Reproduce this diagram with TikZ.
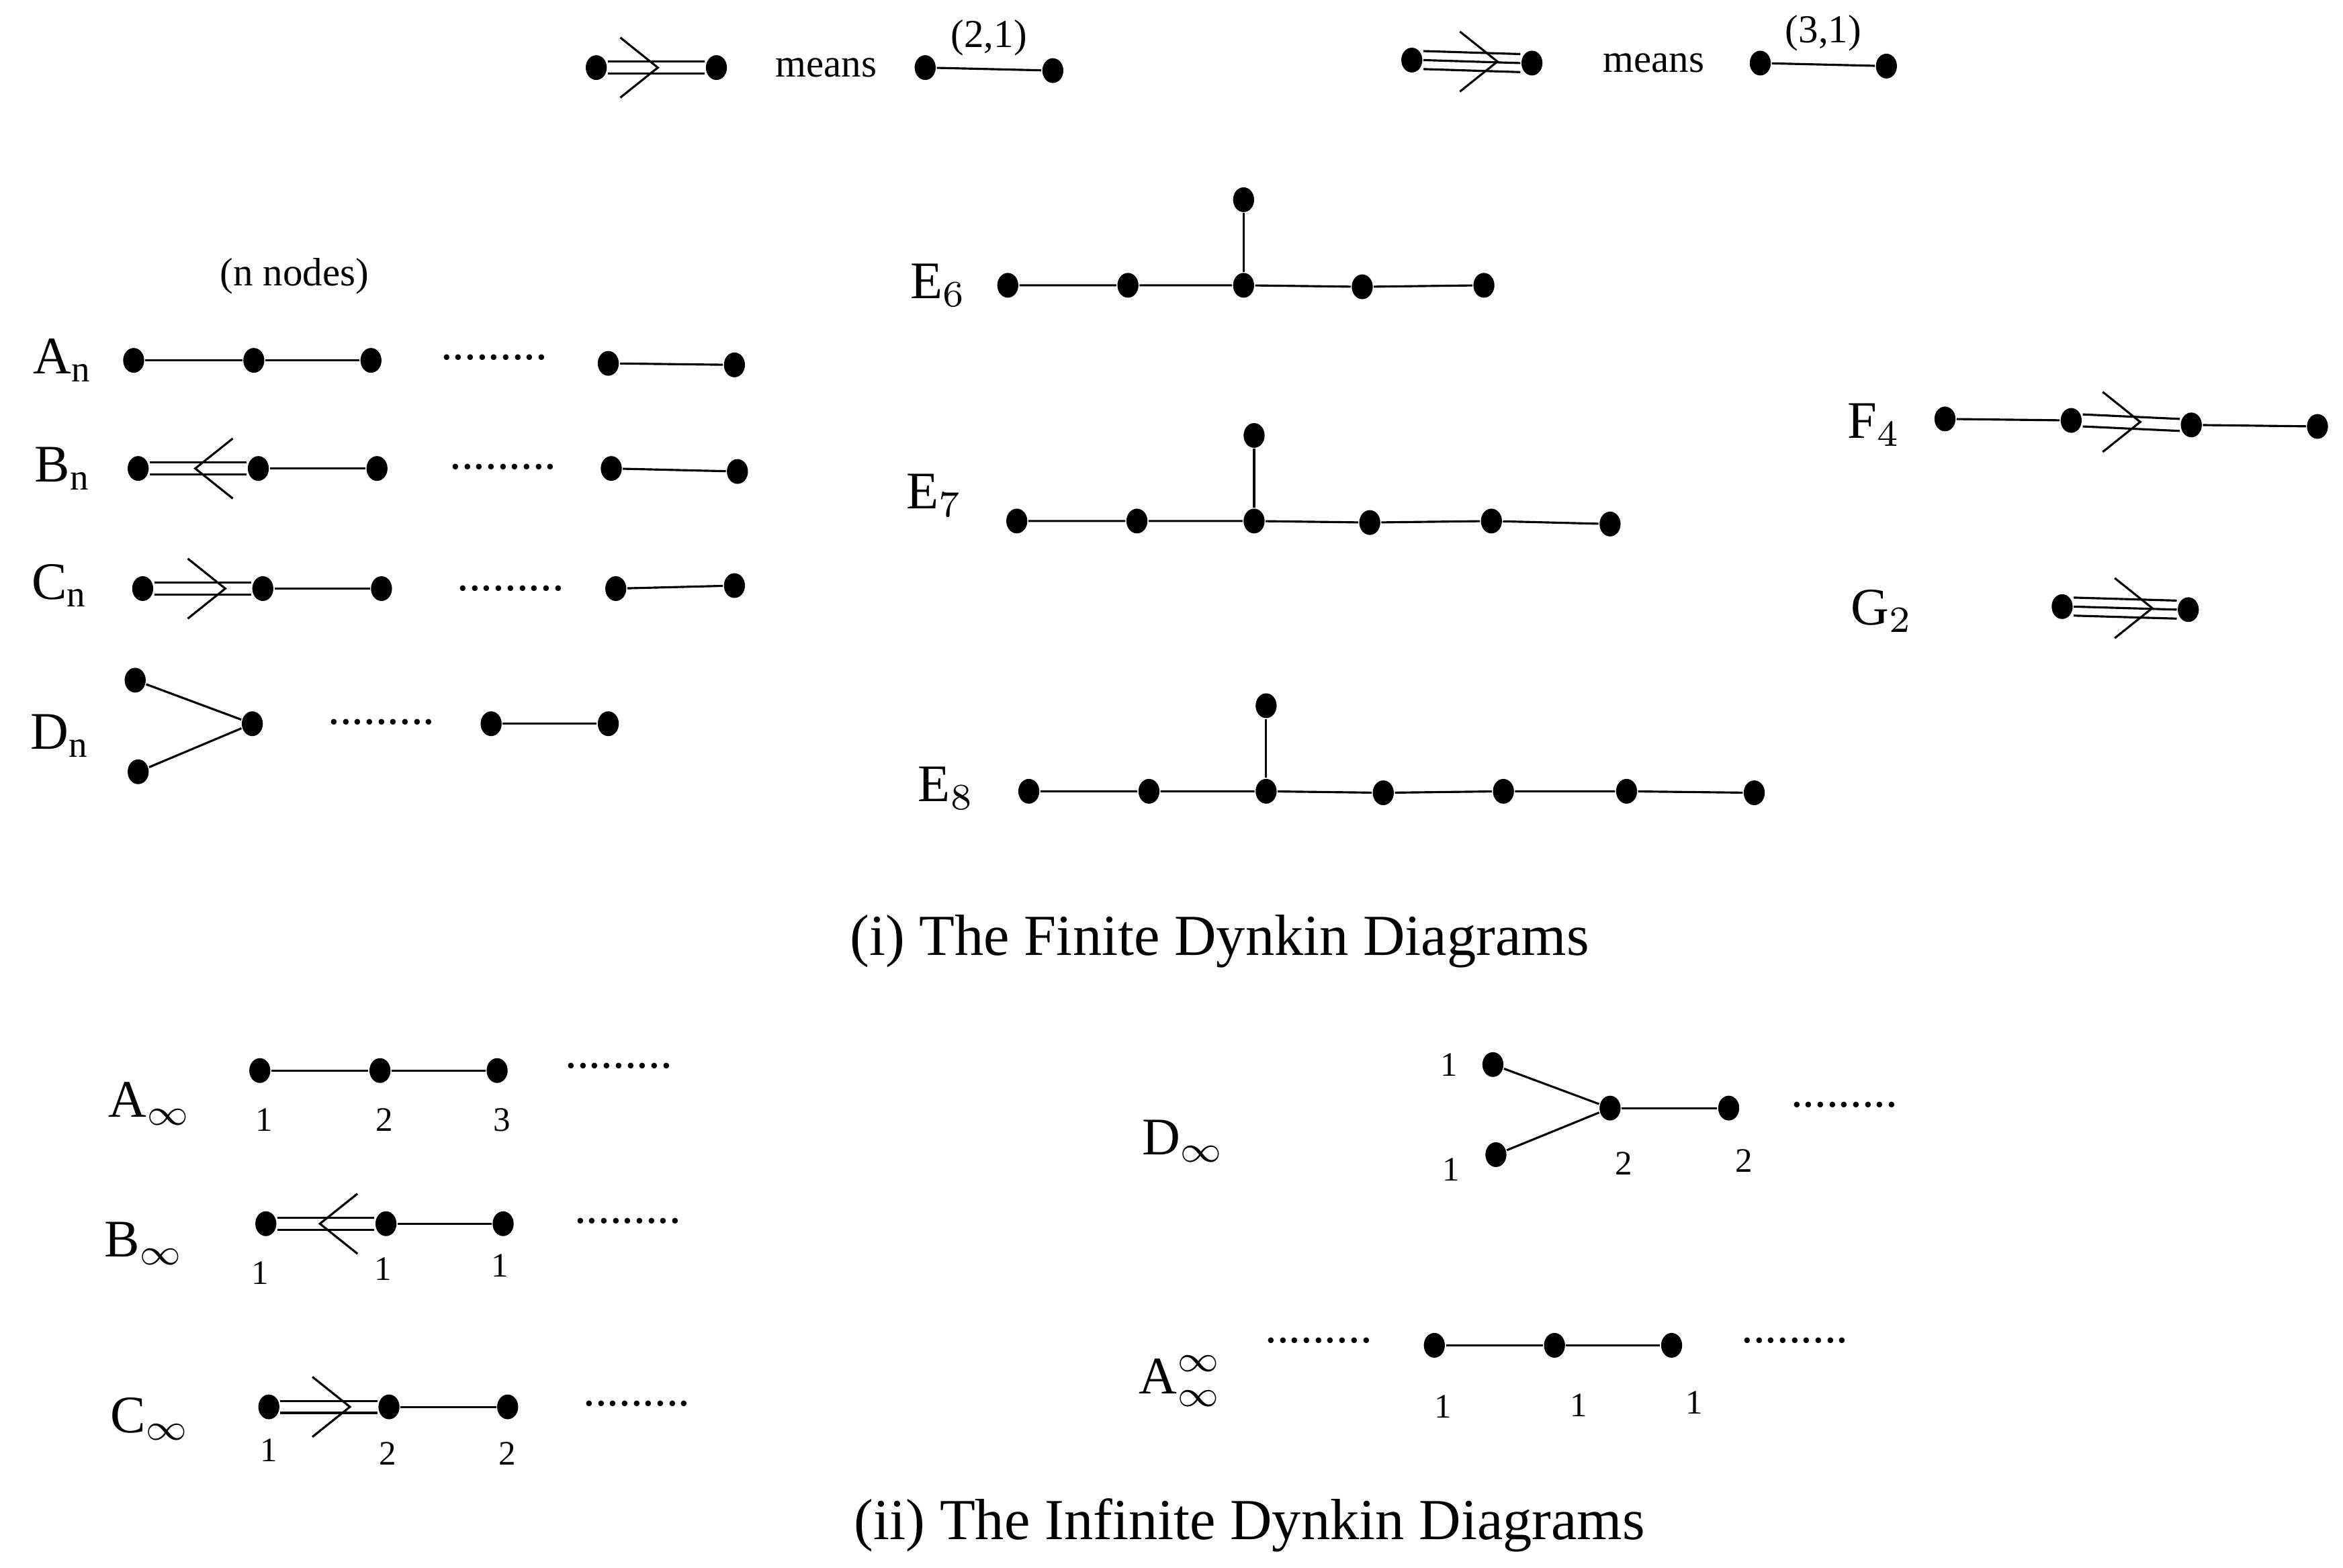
\documentclass[tikz,border=0pt]{standalone}
\usepackage{fontspec}
\usepackage{amsmath}
\setmainfont{Liberation Serif}
\usetikzlibrary{shapes.geometric}

\tikzset{
  dot/.style={ellipse, fill=black, inner sep=0pt, minimum width=0.14cm, minimum height=0.165cm},
  diag/.style={font=\fontsize{10}{12}\selectfont},
  num/.style={font=\fontsize{6.5}{8}\selectfont},
  word/.style={font=\fontsize{7.5}{9}\selectfont},
  title/.style={font=\fontsize{11}{13}\selectfont},
  dots/.style={font=\fontsize{9}{10}\selectfont}
}
\newcommand{\chev}[2]{\draw ([shift={(#2*-25,-20)}]#1) -- (#1) -- ([shift={(#2*-25,20)}]#1);}
\newcommand{\dbl}[2]{\draw ([yshift=0.04cm]#1.east) -- ([yshift=0.04cm]#2.west);
  \draw ([yshift=-0.04cm]#1.east) -- ([yshift=-0.04cm]#2.west);}
\newcommand{\trp}[2]{\draw ([yshift=0.06cm]#1.east) -- ([yshift=0.06cm]#2.west);
  \draw (#1.east) -- (#2.west);
  \draw ([yshift=-0.06cm]#1.east) -- ([yshift=-0.06cm]#2.west);}
\newcommand{\dotrow}[2]{\node[dots] (#2) at (#1) {.........};}

\begin{document}
\begin{tikzpicture}[x=0.01cm, y=-0.01cm]
  \useasboundingbox (0,0) rectangle (1560,1044);

  % legend
  \node[dot] (l1) at (397,45) {};
  \node[dot] (l2) at (477,45) {};
  \dbl{l1}{l2}
  \coordinate (lv) at (438,45); \chev{lv}{1}
  \node[word] (m1) at (550,45) {means};
  \node[dot] (l3) at (616,45) {};
  \node[dot] (l4) at (701,47) {};
  \draw (l3) -- (l4) node[midway, above=-1pt, word] {(2,1)};

  \node[dot] (k1) at (940,40) {};
  \node[dot] (k2) at (1020,42) {};
  \trp{k1}{k2}
  \coordinate (kv) at (997,41); \chev{kv}{1}
  \node[word] (m2) at (1101,42) {means};
  \node[dot] (k3) at (1172,42) {};
  \node[dot] (k4) at (1256,44) {};
  \draw (k3) -- (k4) node[midway, above=-1pt, word] {(3,1)};

  % A_n
  \node[diag] (An) at (42,240) {$\text{A}_{\text{n}}$};
  \node[word] (nn) at (196,184) {(n nodes)};
  \foreach \i/\x/\y in {1/89/240, 2/169/240, 3/247/240, 4/405/242, 5/489/243}
    \node[dot] (a\i) at (\x,\y) {};
  \draw (a1) -- (a2) -- (a3);
  \draw (a4) -- (a5);
  \dotrow{329,238}{ad}

  % B_n
  \node[diag] (Bn) at (42,312) {$\text{B}_{\text{n}}$};
  \foreach \i/\x/\y in {1/92/312, 2/172/312, 3/251/312, 4/407/312, 5/491/314}
    \node[dot] (b\i) at (\x,\y) {};
  \dbl{b1}{b2}
  \coordinate (bv) at (130,312); \chev{bv}{-1}
  \draw (b2) -- (b3);
  \draw (b4) -- (b5);
  \dotrow{335,311}{bd}

  % C_n
  \node[diag] (Cn) at (40,390) {$\text{C}_{\text{n}}$};
  \foreach \i/\x/\y in {1/95/392, 2/175/392, 3/254/392, 4/410/392, 5/489/390}
    \node[dot] (c\i) at (\x,\y) {};
  \dbl{c1}{c2}
  \coordinate (cv) at (150,392); \chev{cv}{1}
  \draw (c2) -- (c3);
  \draw (c4) -- (c5);
  \dotrow{340,392}{cd}

  % D_n
  \node[diag] (Dn) at (40,490) {$\text{D}_{\text{n}}$};
  \foreach \i/\x/\y in {1/90/453, 2/92/514, 3/168/482, 4/327/482, 5/405/482}
    \node[dot] (d\i) at (\x,\y) {};
  \draw (d1) -- (d3) -- (d2);
  \draw (d4) -- (d5);
  \dotrow{254,481}{dd}

  % E_6
  \node[diag] (E6) at (625,190) {$\text{E}_6$};
  \foreach \i/\x/\y in {1/671/190, 2/751/190, 3/828/190, 4/907/191, 5/988/190, 6/828/133}
    \node[dot] (e\i) at (\x,\y) {};
  \draw (e1) -- (e2) -- (e3) -- (e4) -- (e5);
  \draw (e3) -- (e6);

  % E_7
  \node[diag] (E7) at (622,330) {$\text{E}_7$};
  \foreach \i/\x/\y in {1/677/347, 2/757/347, 3/835/347, 4/912/348, 5/993/347, 6/1072/349, 7/835/290}
    \node[dot] (f\i) at (\x,\y) {};
  \draw (f1) -- (f2) -- (f3) -- (f4) -- (f5) -- (f6);
  \draw (f3) -- (f7);

  % E_8
  \node[diag] (E8) at (630,525) {$\text{E}_8$};
  \foreach \i/\x/\y in {1/685/527, 2/765/527, 3/843/527, 4/921/528, 5/1001/527, 6/1083/527, 7/1168/528, 8/843/470}
    \node[dot] (g\i) at (\x,\y) {};
  \draw (g1) -- (g2) -- (g3) -- (g4) -- (g5) -- (g6) -- (g7);
  \draw (g3) -- (g8);

  % F_4
  \node[diag] (F4) at (1248,283) {$\text{F}_4$};
  \foreach \i/\x/\y in {1/1295/279, 2/1379/280, 3/1459/283, 4/1543/284}
    \node[dot] (h\i) at (\x,\y) {};
  \draw (h1) -- (h2);
  \dbl{h2}{h3}
  \coordinate (hv) at (1425,281); \chev{hv}{1}
  \draw (h3) -- (h4);

  % G_2
  \node[diag] (G2) at (1253,407) {$\text{G}_2$};
  \node[dot] (p1) at (1373,404) {};
  \node[dot] (p2) at (1457,406) {};
  \trp{p1}{p2}
  \coordinate (pv) at (1433,405); \chev{pv}{1}

  \node[title] (cap1) at (812,627) {(i) The Finite Dynkin Diagrams};

  % A_infty
  \node[diag] (Ai) at (100,735) {$\text{A}_\infty$};
  \foreach \i/\x/\y/\n in {1/173/713/1, 2/253/713/2, 3/331/713/3}
    \node[dot] (q\i) at (\x,\y) {} node[num] at (\x+3,\y+33) {\n};
  \draw (q1) -- (q2) -- (q3);
  \dotrow{412,710}{qd}

  % B_infty
  \node[diag] (Bi) at (96,828) {$\text{B}_\infty$};
  \foreach \i/\x/\y in {1/177/815, 2/257/815, 3/335/815}
    \node[dot] (r\i) at (\x,\y) {};
  \node[num] at (173,848) {1};
  \node[num] at (255,845) {1};
  \node[num] at (333,843) {1};
  \dbl{r1}{r2}
  \coordinate (rv) at (213,815); \chev{rv}{-1}
  \draw (r2) -- (r3);
  \dotrow{418,813}{rd}

  % C_infty
  \node[diag] (Ci) at (100,945) {$\text{C}_\infty$};
  \foreach \i/\x/\y in {1/179/937, 2/259/937, 3/338/937}
    \node[dot] (s\i) at (\x,\y) {};
  \node[num] at (179,966) {1};
  \node[num] at (258,968) {2};
  \node[num] at (338,968) {2};
  \dbl{s1}{s2}
  \coordinate (sv) at (233,937); \chev{sv}{1}
  \draw (s2) -- (s3);
  \dotrow{424,935}{sd}

  % D_infty
  \node[diag] (Di) at (788,760) {$\text{D}_\infty$};
  \foreach \i/\x/\y in {1/994/709, 2/996/769, 3/1072/738, 4/1151/738}
    \node[dot] (t\i) at (\x,\y) {};
  \node[num] at (965,709) {1};
  \node[num] at (966,779) {1};
  \node[num] at (1081,775) {2};
  \node[num] at (1161,773) {2};
  \draw (t1) -- (t3) -- (t2);
  \draw (t3) -- (t4);
  \dotrow{1228,736}{td}

  % A_infty^infty
  \node[diag] (Aii) at (786,920) {$\text{A}_\infty^\infty$};
  \foreach \i/\x/\y in {1/955/896, 2/1035/896, 3/1113/896}
    \node[dot] (u\i) at (\x,\y) {};
  \node[num] at (961,937) {1};
  \node[num] at (1051,936) {1};
  \node[num] at (1128,934) {1};
  \draw (u1) -- (u2) -- (u3);
  \dotrow{878,893}{ud1}
  \dotrow{1195,893}{ud2}

  \node[title] (cap2) at (832,1016) {(ii) The Infinite Dynkin Diagrams};
\end{tikzpicture}
\end{document}
